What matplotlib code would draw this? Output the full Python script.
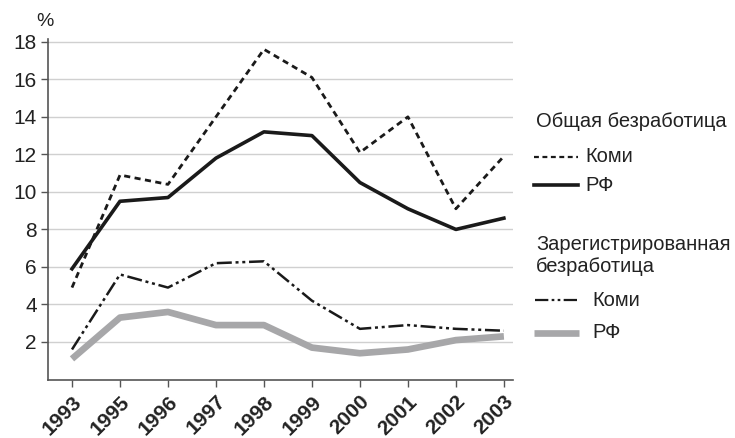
import matplotlib
matplotlib.use("Agg")
import matplotlib.pyplot as plt
import matplotlib.transforms as mtransforms
from matplotlib.lines import Line2D

plt.rcParams['font.family'] = ['Liberation Sans', 'DejaVu Sans']

years = ["1993", "1995", "1996", "1997", "1998", "1999", "2000", "2001", "2002", "2003"]
total_komi = [4.9, 10.9, 10.4, 14.0, 17.6, 16.1, 12.1, 14.0, 9.1, 11.9]
total_rf = [5.9, 9.5, 9.7, 11.8, 13.2, 13.0, 10.5, 9.1, 8.0, 8.6]
reg_komi = [1.6, 5.6, 4.9, 6.2, 6.3, 4.2, 2.7, 2.9, 2.7, 2.6]
reg_rf = [1.1, 3.3, 3.6, 2.9, 2.9, 1.7, 1.4, 1.6, 2.1, 2.3]
yticks = [2, 4, 6, 8, 10, 12, 14, 16, 18]

W, H = 735, 438
fig = plt.figure(figsize=(W / 100, H / 100), dpi=100)
ax = fig.add_axes([48 / W, 1 - 379.5 / H, (513 - 48) / W, (379.5 - 39) / H])

x = list(range(len(years)))
dash_style = (0, (2.2, 1.6))
dashdot_style = (0, (6, 1.5, 1.2, 1.5, 1.2, 1.5))
ax.plot(x, reg_rf, color='#a7a7a9', lw=4.8, solid_capstyle='butt', zorder=3)
ax.plot(x, reg_komi, color='#1a1a1a', lw=1.8, linestyle=dashdot_style, zorder=4)
ax.plot(x, total_rf, color='#1a1a1a', lw=2.6, zorder=4)
ax.plot(x, total_komi, color='#1a1a1a', lw=2.0, linestyle=dash_style, zorder=4)

ax.set_xlim(-0.5, 9.19)
ax.set_ylim(0, 18.15)
ax.set_yticks(yticks)
ax.set_yticklabels([str(v) for v in yticks], fontsize=15, color='#222222')
ax.set_xticks(x)
ax.set_xticklabels(years, rotation=45, ha='right', rotation_mode='anchor',
                   fontsize=15, fontweight='bold', color='#222222')
offset = mtransforms.ScaledTranslation(9 / 100, 0, fig.dpi_scale_trans)
for lab in ax.get_xticklabels():
    lab.set_transform(lab.get_transform() + offset)
ax.grid(axis='y', color='#d0d0d0', lw=1.0)
ax.set_axisbelow(True)
for s in ['top', 'right']:
    ax.spines[s].set_visible(False)
for s in ['left', 'bottom']:
    ax.spines[s].set_color('#555555')
    ax.spines[s].set_linewidth(1.2)
ax.tick_params(axis='both', color='#555555', length=5, width=1.0)
ax.tick_params(axis='x', pad=4)
ax.tick_params(axis='y', pad=3)

fig.text(45 / W, 1 - 22 / H, '%', fontsize=14, ha='center', va='center', color='#222222')

def fx(px):
    return px / W

def fy(py):
    return 1 - py / H

fs = 14.5
fig.text(fx(536), fy(122), 'Общая безработица', fontsize=fs, va='center', color='#222222')
fig.add_artist(Line2D([fx(534), fx(578)], [fy(157), fy(157)], color='#1a1a1a', lw=1.6,
                      linestyle=(0, (2.2, 1.6))))
fig.text(fx(585), fy(157), 'Коми', fontsize=fs, va='center', color='#222222')
fig.add_artist(Line2D([fx(534), fx(578)], [fy(185), fy(185)], color='#1a1a1a', lw=2.6))
fig.text(fx(585), fy(185), 'РФ', fontsize=fs, va='center', color='#222222')
fig.text(fx(536), fy(244), 'Зарегистрированная', fontsize=fs, va='center', color='#222222')
fig.text(fx(536), fy(267), 'безработица', fontsize=fs, va='center', color='#222222')
fig.add_artist(Line2D([fx(535), fx(578)], [fy(300), fy(300)], color='#1a1a1a', lw=1.6,
                      linestyle=dashdot_style))
fig.text(fx(592), fy(300), 'Коми', fontsize=fs, va='center', color='#222222')
fig.add_artist(Line2D([fx(534), fx(579)], [fy(333), fy(333)], color='#a7a7a9', lw=4.8,
                      solid_capstyle='butt'))
fig.text(fx(592), fy(333), 'РФ', fontsize=fs, va='center', color='#222222')

fig.savefig('out.png', dpi=100)
